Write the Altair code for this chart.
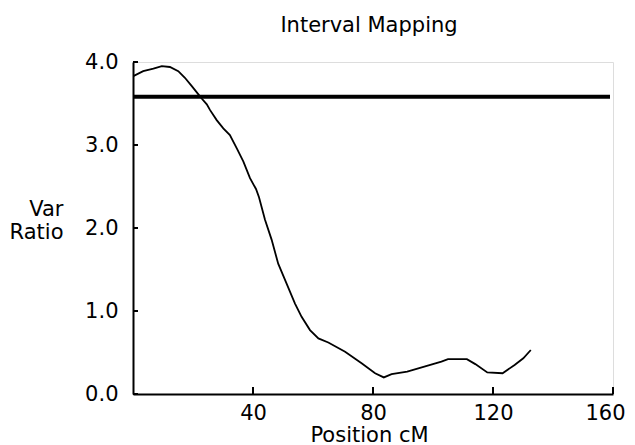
import altair as alt
import pandas as pd

pos = [0.1, 3.4, 6.8, 9.6, 12.3, 15.1, 17.3, 19.6, 21.8, 22.9, 24.6, 25.7, 27.9, 30.1, 32.3,
       34.6, 36.8, 39.0, 41.0, 42.0, 44.0, 46.2, 48.4, 51.2, 54.0, 56.2, 59.0, 61.8, 65.1,
       70.7, 76.2, 80.7, 83.6, 86.2, 91.4, 97.1, 102.8, 105.0, 111.3, 114.1, 118.1, 123.2,
       127.2, 130.1, 132.6]
ratio = [3.83, 3.89, 3.92, 3.95, 3.94, 3.89, 3.81, 3.71, 3.61, 3.56, 3.49, 3.42, 3.30, 3.20,
         3.12, 2.96, 2.80, 2.60, 2.47, 2.37, 2.10, 1.86, 1.57, 1.33, 1.09, 0.93, 0.77, 0.67,
         0.62, 0.51, 0.37, 0.25, 0.20, 0.24, 0.27, 0.33, 0.39, 0.42, 0.42, 0.36, 0.26, 0.25,
         0.35, 0.43, 0.53]
threshold = 3.58
threshold_end = 159
x_ticks = [40, 80, 120, 160]
y_ticks = [0, 1, 2, 3, 4]
title_text = "Interval Mapping"

FONT = "DejaVu Sans"
FS = 21
W, H = 480, 332
df = pd.DataFrame({"pos": pos, "ratio": ratio})

xs = alt.Scale(domain=[0, 160], nice=False)
ys = alt.Scale(domain=[0, 4], nice=False)

curve = alt.Chart(df).mark_line(color="black", strokeWidth=1.8).encode(
    x=alt.X("pos:Q", scale=xs, axis=alt.Axis(
        title="Position cM", values=x_ticks, ticks=False, grid=False,
        labelFlush=True, labelFlushOffset=12,
        domainColor="black", domainWidth=2, labelFontSize=FS, labelFont=FONT,
        labelColor="black", labelPadding=8, titleFontSize=FS, titleFont=FONT,
        titleFontWeight="normal", titleColor="black", titleBaseline="alphabetic",
        titleY=47, titleX=W / 2 - 4)),
    y=alt.Y("ratio:Q", scale=ys, axis=alt.Axis(
        title=["Var", "Ratio"], values=y_ticks, format=".1f", ticks=False, grid=False,
        labelFlush=False,
        domainColor="black", domainWidth=2, labelFontSize=FS, labelFont=FONT,
        labelColor="black", labelPadding=15, titleFontSize=FS, titleFont=FONT,
        titleFontWeight="normal", titleColor="black", titleAngle=0, titleAlign="right",
        titleBaseline="alphabetic", titleX=-70, titleY=153, titleLineHeight=23)),
)

thr = alt.Chart(pd.DataFrame({"y": [threshold], "x": [0], "x2": [threshold_end]})).mark_rule(
    color="black", strokeWidth=4).encode(
    x=alt.X("x:Q", scale=xs), x2="x2:Q", y=alt.Y("y:Q", scale=ys))

yt = alt.Chart(pd.DataFrame({"v": y_ticks})).mark_rule(color="black", strokeWidth=2).encode(
    y=alt.Y("v:Q", scale=ys), x=alt.value(0), x2=alt.value(5))

xt = alt.Chart(pd.DataFrame({"v": x_ticks})).mark_rule(color="black", strokeWidth=2).encode(
    x=alt.X("v:Q", scale=xs), y=alt.value(H), y2=alt.value(H - 7))

ttl = alt.Chart(pd.DataFrame({"t": [title_text]})).mark_text(
    font=FONT, fontSize=FS, color="black", align="center", baseline="alphabetic").encode(
    text="t:N", x=alt.value(W / 2 - 4), y=alt.value(-30))

chart = alt.layer(curve, thr, yt, xt, ttl).properties(
    width=W, height=H,
    autosize=alt.AutoSizeParams(type="none"),
    padding={"left": 125, "top": 54, "right": 14, "bottom": 51},
).configure_view(stroke=None).configure(background="white")

chart.save("out.html", embed_options={"renderer": "svg", "actions": False})
